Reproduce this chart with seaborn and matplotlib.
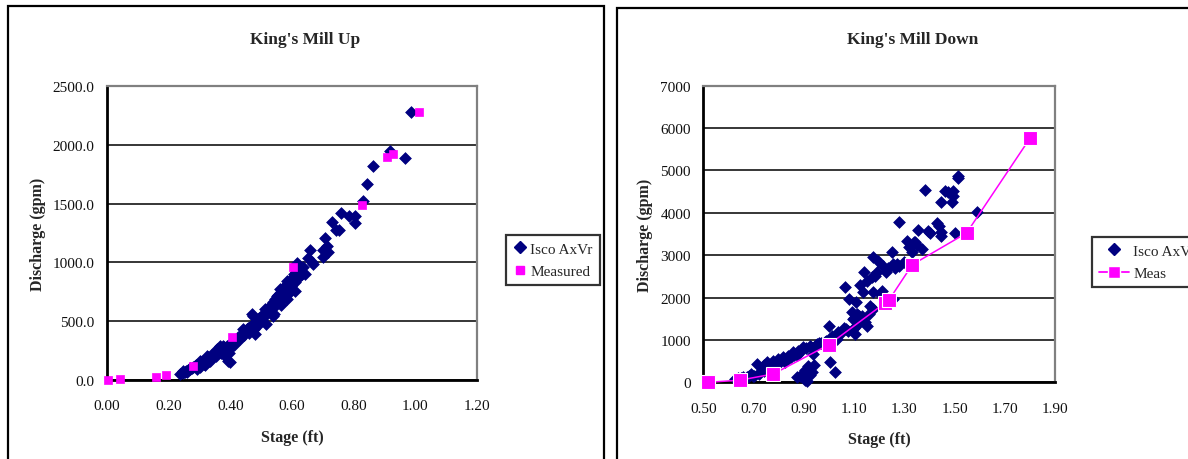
import matplotlib
matplotlib.use("Agg")
import matplotlib.pyplot as plt
import matplotlib.patches as mpatches
from matplotlib.ticker import FormatStrFormatter
from matplotlib.lines import Line2D
import seaborn as sns
import pandas as pd

# King's Mill Up - Isco AxVr
up_isco_stage = [0.986, 0.918, 0.966, 0.862, 0.842, 0.829, 0.759, 0.784, 0.805, 0.805,
                 0.729, 0.743, 0.753, 0.707, 0.712, 0.700, 0.718, 0.658, 0.653, 0.669,
                 0.615, 0.642, 0.626, 0.604, 0.583, 0.594, 0.550, 0.561, 0.545, 0.529,
                 0.512, 0.539, 0.502, 0.475, 0.469, 0.486, 0.464, 0.480, 0.442, 0.431,
                 0.410, 0.388, 0.366, 0.356, 0.399, 0.392, 0.383, 0.345, 0.323, 0.334,
                 0.302, 0.302, 0.269, 0.247, 0.237, 0.259, 0.291, 0.312, 0.252, 0.275,
                 0.285, 0.315, 0.330, 0.340, 0.350, 0.360, 0.372, 0.378, 0.395, 0.405,
                 0.418, 0.425, 0.437, 0.450, 0.455, 0.470, 0.490, 0.497, 0.508, 0.520,
                 0.525, 0.535, 0.548, 0.556, 0.566, 0.572, 0.578, 0.590, 0.598, 0.610,
                 0.620, 0.633, 0.300, 0.318, 0.335, 0.355, 0.370, 0.385, 0.412, 0.445,
                 0.460, 0.478, 0.515, 0.540, 0.565, 0.585, 0.609, 0.665, 0.700, 0.635,
                 0.245, 0.255, 0.262, 0.270, 0.278, 0.288, 0.295, 0.305, 0.312, 0.322,
                 0.328, 0.338, 0.346, 0.352, 0.362, 0.368, 0.376, 0.382, 0.390, 0.398,
                 0.402, 0.408, 0.415, 0.422, 0.430, 0.440, 0.448, 0.458, 0.466, 0.475,
                 0.485, 0.493, 0.503, 0.512, 0.520, 0.530, 0.538, 0.545, 0.553, 0.560,
                 0.568, 0.575, 0.582, 0.592, 0.600, 0.605, 0.612, 0.395, 0.380, 0.360]
up_isco_q = [2279, 1948, 1886, 1818, 1665, 1518, 1424, 1396, 1396, 1339,
             1345, 1277, 1277, 1206, 1141, 1107, 1090, 1107, 1036, 985,
             994, 900, 929, 858, 844, 745, 716, 773, 631, 575,
             603, 546, 518, 546, 561, 461, 447, 391, 433, 348,
             334, 291, 291, 263, 150, 160, 206, 206, 206, 164,
             164, 121, 93, 79, 51, 65, 93, 150, 70, 105,
             118, 140, 165, 190, 215, 240, 260, 280, 300, 320,
             345, 365, 390, 410, 430, 470, 500, 510, 540, 570,
             600, 620, 650, 680, 700, 720, 750, 780, 800, 830,
             870, 900, 110, 130, 175, 200, 230, 255, 300, 380,
             400, 430, 480, 560, 640, 690, 760, 1000, 1050, 960,
             60, 75, 85, 100, 110, 125, 140, 150, 165, 180,
             195, 210, 225, 245, 255, 275, 290, 270, 250, 280,
             310, 300, 330, 350, 370, 390, 420, 440, 450, 480,
             500, 530, 550, 570, 600, 630, 660, 690, 720, 740,
             760, 790, 810, 820, 870, 900, 920, 230, 240, 230]

# King's Mill Up - Measured
up_meas_stage = [0.004, 0.042, 0.159, 0.191, 0.280, 0.404, 0.602, 0.826, 0.909, 0.929, 1.013]
up_meas_q = [0, 5, 28, 42, 121, 368, 963, 1489, 1897, 1925, 2279]

# King's Mill Down - Isco AxVr
dn_isco_stage = [1.513, 1.515, 1.382, 1.446, 1.462, 1.475, 1.493, 1.489, 1.495, 1.588,
                 1.279, 1.353, 1.396, 1.402, 1.429, 1.440, 1.446, 1.446, 1.502, 1.309,
                 1.343, 1.349, 1.369, 1.329, 1.177, 1.197, 1.217, 1.250, 1.256, 1.280,
                 1.236, 1.190, 1.170, 1.150, 1.064, 1.124, 1.134, 1.177, 1.203, 1.081,
                 1.108, 1.164, 1.177, 1.256, 1.090, 1.110, 1.130, 1.144, 1.097, 1.117,
                 1.150, 1.002, 1.077, 1.104, 1.051, 1.031, 1.011, 0.984, 0.951, 0.925,
                 0.898, 0.878, 0.858, 0.938, 0.838, 0.818, 0.799, 0.779, 0.752, 0.712,
                 0.765, 1.004, 1.024, 0.918, 0.931, 0.898, 0.872, 0.911, 0.726, 0.699,
                 0.673, 0.626, 0.739, 0.792, 0.825, 0.872, 1.035, 1.100, 1.120, 1.160,
                 1.228, 1.265, 1.300, 1.320, 1.185, 1.140, 1.070, 0.960, 0.905, 0.885,
                 0.795, 0.742, 0.688, 0.650, 1.040, 1.100, 1.125, 1.210, 1.270, 1.340,
                 0.905, 0.925, 0.940, 1.090, 1.060,
                 0.700, 0.720, 0.740, 0.760, 0.780, 0.800, 0.810, 0.830, 0.850, 0.860,
                 0.880, 0.890, 0.910, 0.930, 0.950, 0.970, 0.990, 1.020, 0.640, 0.660,
                 0.680, 0.760, 0.745]
dn_isco_q = [4876, 4813, 4538, 4247, 4522, 4483, 4404, 4263, 4522, 4011,
             3791, 3594, 3579, 3524, 3759, 3697, 3555, 3445, 3516, 3343,
             3319, 3240, 3146, 3083, 2949, 2871, 2753, 3067, 2792, 2753,
             2690, 2595, 2477, 2399, 2241, 2297, 2124, 2124, 2084, 1966,
             1888, 1793, 1730, 1966, 1652, 1612, 1557, 1416, 1494, 1376,
             1321, 1337, 1219, 1140, 1180, 1022, 1101, 944, 904, 865,
             826, 747, 708, 669, 629, 590, 551, 511, 472, 433,
             393, 472, 236, 393, 236, 118, 118, 39, 236, 157,
             118, 79, 315, 409, 488, 645, 1180, 1280, 1560, 1620,
             2600, 2700, 2850, 3200, 2500, 2600, 1250, 930, 300, 150,
             450, 420, 200, 100, 1150, 1520, 1450, 2150, 2800, 3300,
             60, 180, 420, 1230, 1280,
             150, 200, 260, 350, 420, 470, 520, 560, 600, 640,
             700, 760, 800, 840, 880, 920, 980, 1050, 100, 120,
             140, 300, 400]

# King's Mill Down - Meas
dn_meas_stage = [0.520, 0.646, 0.779, 1.000, 1.223, 1.240, 1.332, 1.548, 1.800]
dn_meas_q = [0, 50, 197, 889, 1872, 1950, 2776, 3524, 5757]

NAVY = "#000080"
MAGENTA = "#FF00FF"

sns.set_theme(style="white")
plt.rcParams["font.family"] = ["Liberation Serif", "DejaVu Serif"]

fig = plt.figure(figsize=(11.88, 4.60), dpi=100)
fig.patch.set_facecolor("white")

# panel frames
fig.add_artist(mpatches.Rectangle((8 / 1188, -0.1), 596 / 1188, 1.1 - 7 / 460,
                                  transform=fig.transFigure, fill=False,
                                  edgecolor="black", linewidth=1.6))
fig.add_artist(mpatches.Rectangle((617 / 1188, -0.1), 0.6, 1.1 - 9 / 460,
                                  transform=fig.transFigure, fill=False,
                                  edgecolor="black", linewidth=1.6))

ax1 = fig.add_axes([107 / 1188, 1 - 381 / 460, 370 / 1188, 294 / 460])
ax2 = fig.add_axes([703.3 / 1188, 1 - 383.3 / 460, 351.7 / 1188, 296.6 / 460])

up_isco = pd.DataFrame({"stage": up_isco_stage, "q": up_isco_q})
up_meas = pd.DataFrame({"stage": up_meas_stage, "q": up_meas_q})
dn_isco = pd.DataFrame({"stage": dn_isco_stage, "q": dn_isco_q})
dn_meas = pd.DataFrame({"stage": dn_meas_stage, "q": dn_meas_q})

# left chart
sns.scatterplot(data=up_isco, x="stage", y="q", ax=ax1, marker="D", s=36,
                color=NAVY, edgecolor=NAVY, linewidth=0.5, zorder=3, clip_on=False)
sns.scatterplot(data=up_meas, x="stage", y="q", ax=ax1, marker="s", s=40,
                color=MAGENTA, edgecolor=MAGENTA, linewidth=0.5, zorder=4, clip_on=False)

# right chart
sns.scatterplot(data=dn_isco, x="stage", y="q", ax=ax2, marker="D", s=36,
                color=NAVY, edgecolor=NAVY, linewidth=0.5, zorder=3, clip_on=False)
sns.lineplot(data=dn_meas, x="stage", y="q", ax=ax2, color=MAGENTA, linewidth=1.1,
             marker="s", markersize=9.5, markerfacecolor=MAGENTA,
             markeredgecolor="white", markeredgewidth=0.8, zorder=4, clip_on=False)

for ax in (ax1, ax2):
    ax.set_facecolor("white")
    ax.yaxis.grid(True, color="black", linewidth=1.1)
    ax.xaxis.grid(False)
    ax.set_axisbelow(True)
    for side in ("left", "bottom"):
        ax.spines[side].set_color("black")
        ax.spines[side].set_linewidth(2)
    for side in ("top", "right"):
        ax.spines[side].set_color("#808080")
        ax.spines[side].set_linewidth(1.6)
    ax.tick_params(axis="both", direction="out", length=4, width=1.5,
                   color="black", labelsize=11, labelcolor="#111111")
    ax.tick_params(axis="x", pad=10)
    ax.tick_params(axis="y", pad=5)
    ax.set_xlabel("Stage (ft)", fontsize=11.5, fontweight="bold", labelpad=12)
    ax.set_ylabel("Discharge (gpm)", fontsize=11.5, fontweight="bold", labelpad=5)

ax1.set_xlim(0, 1.2)
ax1.set_ylim(0, 2500)
ax1.set_xticks([0, 0.2, 0.4, 0.6, 0.8, 1.0, 1.2])
ax1.set_yticks([0, 500, 1000, 1500, 2000, 2500])
ax1.xaxis.set_major_formatter(FormatStrFormatter("%.2f"))
ax1.yaxis.set_major_formatter(FormatStrFormatter("%.1f"))

ax2.set_xlim(0.5, 1.9)
ax2.set_ylim(0, 7000)
ax2.set_xticks([0.5, 0.7, 0.9, 1.1, 1.3, 1.5, 1.7, 1.9])
ax2.set_yticks([0, 1000, 2000, 3000, 4000, 5000, 6000, 7000])
ax2.xaxis.set_major_formatter(FormatStrFormatter("%.2f"))
ax2.yaxis.set_major_formatter(FormatStrFormatter("%d"))

fig.text(305 / 1188, 1 - 40 / 460, "King's Mill Up", ha="center", va="center",
         fontsize=12.5, fontweight="bold")
fig.text(913 / 1188, 1 - 40 / 460, "King's Mill Down", ha="center", va="center",
         fontsize=12.5, fontweight="bold")

# legends
h_isco = Line2D([], [], linestyle="none", marker="D", markersize=6,
                color=NAVY, markeredgecolor=NAVY)
h_meas_up = Line2D([], [], linestyle="none", marker="s", markersize=6,
                   color=MAGENTA, markeredgecolor=MAGENTA)
h_meas_dn = Line2D([], [], linestyle="-", linewidth=1.3, marker="s", markersize=8,
                   color=MAGENTA, markeredgecolor="white", markerfacecolor=MAGENTA)

leg_kw = dict(loc="upper left", bbox_transform=fig.transFigure, frameon=True,
              fancybox=False, fontsize=11, borderpad=0.45, labelspacing=0.6,
              handletextpad=0.25, borderaxespad=0)
leg1 = ax1.legend([h_isco, h_meas_up], ["Isco AxVr", "Measured"],
                  bbox_to_anchor=(506 / 1188, 1 - 236 / 460),
                  handlelength=0.9, **leg_kw)
leg2 = ax2.legend([h_isco, h_meas_dn], ["Isco AxVr", "Meas"],
                  bbox_to_anchor=(1092 / 1188, 1 - 238 / 460),
                  handlelength=2.0, **leg_kw)
for leg in (leg1, leg2):
    leg.get_frame().set_edgecolor("black")
    leg.get_frame().set_linewidth(1.6)
    leg.set_clip_on(False)

fig.savefig("out.png", dpi=100)
